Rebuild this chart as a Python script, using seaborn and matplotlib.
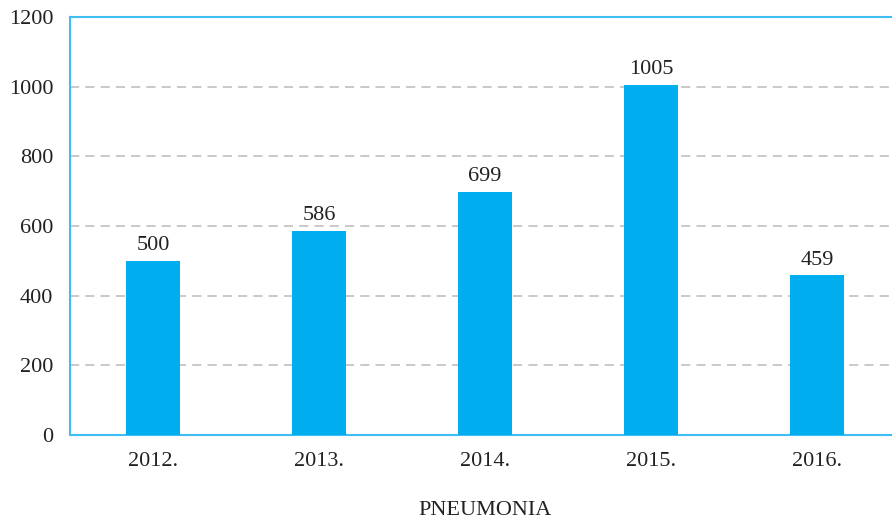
import numpy as np
import pandas as pd
import seaborn as sns
import matplotlib.pyplot as plt

# data
years = ['2012.', '2013.', '2014.', '2015.', '2016.']
cases = [500, 586, 699, 1005, 459]
y_ticks = [0, 200, 400, 600, 800, 1000, 1200]

sns.set_style('white')
plt.rcParams['font.family'] = ['Liberation Serif', 'DejaVu Serif']

bar_color = '#00AEEF'
edge_color = '#3DBDF2'

fig = plt.figure(figsize=(8.92, 5.21), dpi=100)
ax = fig.add_axes([70 / 892, (521 - 435) / 521, 830 / 892, 418 / 521])

df = pd.DataFrame({'year': years, 'cases': cases})
sns.barplot(data=df, x='year', y='cases', color=bar_color, saturation=1,
            width=0.325, linewidth=0, ax=ax, zorder=3)

for i, v in enumerate(cases):
    ax.text(i, v + 16, str(v), ha='center', va='bottom', fontsize=16, color='#222222')

ax.set_xlim(-0.5, 4.5)
ax.set_ylim(0, 1200)
ax.set_yticks(y_ticks)
ax.set_yticklabels([str(t) for t in y_ticks])
for t in y_ticks[1:-1]:
    ax.axhline(t, color='#BBBBBB', lw=1.1, ls=(0, (6, 4)), zorder=1)

ax.tick_params(axis='both', length=0, labelsize=16, colors='#222222')
ax.tick_params(axis='y', pad=12)
ax.tick_params(axis='x', pad=12)

for side in ['left', 'top', 'bottom']:
    ax.spines[side].set_visible(True)
    ax.spines[side].set_color(edge_color)
    ax.spines[side].set_linewidth(1.5)
ax.spines['right'].set_visible(False)

ax.set_ylabel('')
ax.set_xlabel('PNEUMONIA', fontsize=16, color='#222222', labelpad=22)

plt.savefig('out.png', dpi=100)
